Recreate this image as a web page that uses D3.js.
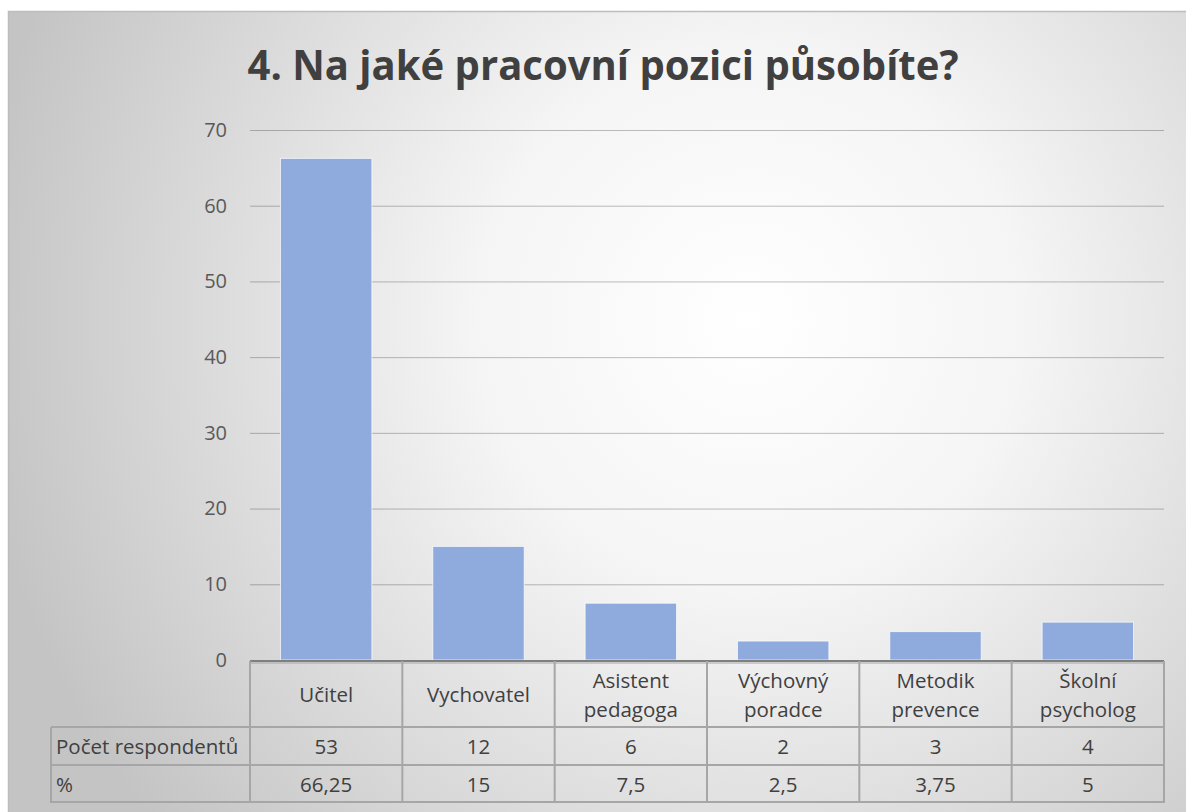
<!DOCTYPE html>
<html><head><meta charset="utf-8">
<script src="https://cdn.jsdelivr.net/npm/d3@7"></script>
<style>html,body{margin:0;padding:0;background:#fff;overflow:hidden}</style>
</head><body>
<svg id="c" width="1186" height="812"></svg>
<script>
const title = "4. Na jaké pracovní pozici působíte?";
const categories = [["Učitel"],["Vychovatel"],["Asistent","pedagoga"],["Výchovný","poradce"],["Metodik","prevence"],["Školní","psycholog"]];
const counts = ["53","12","6","2","3","4"];
const percentLabels = ["66,25","15","7,5","2,5","3,75","5"];
const percentValues = [66.25,15,7.5,2.5,3.75,5];
const rowLabels = ["Počet respondentů","%"];
const yTicks = [0,10,20,30,40,50,60,70];

const svg = d3.select("#c");
const font = "'Open Sans', 'Noto Sans', sans-serif";

const defs = svg.append("defs");
const rg = defs.append("radialGradient").attr("id","bg")
  .attr("gradientUnits","userSpaceOnUse").attr("cx",750).attr("cy",320).attr("r",780);
rg.append("stop").attr("offset","0%").attr("stop-color","#ffffff");
rg.append("stop").attr("offset","35%").attr("stop-color","#f5f5f5");
rg.append("stop").attr("offset","100%").attr("stop-color","#c4c4c4");

svg.append("rect").attr("x",8).attr("y",11).attr("width",1200).attr("height",820).attr("fill","url(#bg)");
svg.append("line").attr("x1",8).attr("x2",1186).attr("y1",11.5).attr("y2",11.5).attr("stroke","#bdbdbd").attr("stroke-width",1.5);
svg.append("line").attr("x1",8.5).attr("x2",8.5).attr("y1",11).attr("y2",812).attr("stroke","#bdbdbd").attr("stroke-width",1.5);

const x0 = 250, x1 = 1164, yTop = 130, yBot = 660;
const x = d3.scaleBand().domain(d3.range(categories.length)).range([x0,x1]).paddingInner(0.4).paddingOuter(0.2);
const y = d3.scaleLinear().domain([0,70]).range([yBot,yTop]);

svg.append("text").attr("x",603).attr("y",80).attr("text-anchor","middle")
  .attr("font-family",font).attr("font-weight","bold").attr("font-size",42)
  .attr("textLength",711).attr("lengthAdjust","spacingAndGlyphs")
  .attr("fill","#404040").text(title);

// gridlines
const grid = d3.axisLeft(y).tickValues(yTicks.filter(d=>d>0)).tickSize(-(x1-x0)).tickFormat("");
const gg = svg.append("g").attr("transform",`translate(${x0},0)`).call(grid);
gg.select(".domain").remove();
gg.selectAll("line").attr("stroke","rgba(0,0,0,0.25)").attr("stroke-width",1);

const yAxis = d3.axisLeft(y).tickValues(yTicks).tickSize(0).tickPadding(0).tickFormat(d3.format("d"));
const ga = svg.append("g").attr("transform",`translate(${227},0)`).call(yAxis);
ga.select(".domain").remove();
ga.selectAll("text").attr("font-family",font).attr("font-size",20).attr("fill","#595959");

// bars
const barIdx = d3.range(percentValues.length);
svg.append("g").selectAll("rect").data(barIdx).join("rect")
  .attr("x",i=>x(i)).attr("width",x.bandwidth())
  .attr("y",i=>y(percentValues[i])).attr("height",i=>y(0)-y(percentValues[i]))
  .attr("fill","#8faadc").attr("stroke","rgba(255,255,255,0.7)").attr("stroke-width",1);

// table
const rowY = [660, 727, 765, 802];
const leftX = 51;
const tg = svg.append("g");
const lineCol = "#a6a6a6";
tg.append("line").attr("x1",x0).attr("x2",x1).attr("y1",661).attr("y2",661).attr("stroke","#7f7f7f").attr("stroke-width",2);
tg.append("line").attr("x1",x0).attr("x2",x1).attr("y1",663).attr("y2",663).attr("stroke",lineCol).attr("stroke-width",1);
[rowY[1],rowY[2],rowY[3]].forEach(yy=>{
  tg.append("line").attr("x1",leftX).attr("x2",x1).attr("y1",yy).attr("y2",yy).attr("stroke",lineCol).attr("stroke-width",2);
});
const bounds = d3.range(categories.length+1).map(i=> x0 + i*x.step());
bounds.forEach(bx=>{
  tg.append("line").attr("x1",bx).attr("x2",bx).attr("y1",661).attr("y2",rowY[3]+1).attr("stroke",lineCol).attr("stroke-width",2);
});
tg.append("line").attr("x1",leftX).attr("x2",leftX).attr("y1",rowY[1]).attr("y2",rowY[3]+1).attr("stroke",lineCol).attr("stroke-width",2);

const fs = 20.5, txtCol = "#404040";
const cx = i => x0 + (i+0.5)*x.step();
categories.forEach((lines,i)=>{
  const t = tg.append("text").attr("text-anchor","middle").attr("font-family",font).attr("font-size",fs).attr("fill",txtCol);
  lines.forEach((ln,k)=>{
    const yy = 702 + (k - (lines.length-1)/2)*29;
    t.append("tspan").attr("x",cx(i)).attr("y",yy).text(ln);
  });
});
const rowBase = [754, 792];
[counts, percentLabels].forEach((row,r)=>{
  const yy = rowBase[r];
  row.forEach((v,i)=>{
    tg.append("text").attr("x",cx(i)).attr("y",yy).attr("text-anchor","middle").attr("font-family",font).attr("font-size",fs).attr("fill",txtCol).text(v);
  });
  tg.append("text").attr("x",56).attr("y",yy).attr("font-family",font).attr("font-size",fs).attr("fill",txtCol).text(rowLabels[r]);
});
</script>
</body></html>
